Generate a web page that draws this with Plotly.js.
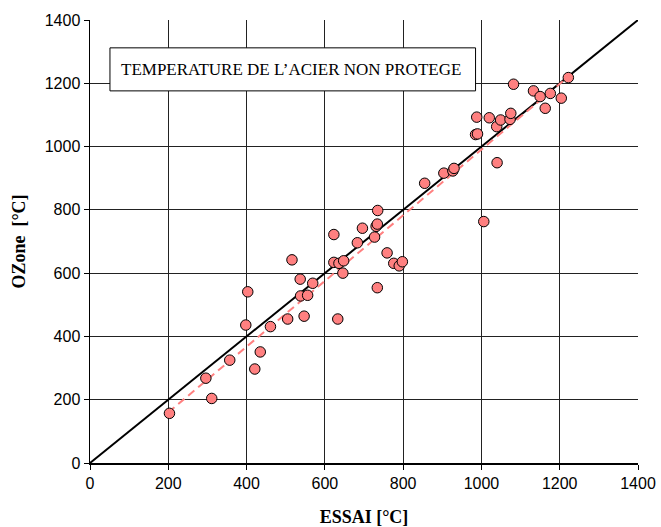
<!DOCTYPE html>
<html>
<head>
<meta charset="utf-8">
<script src="https://cdn.plot.ly/plotly-3.0.1.min.js"></script>
<style>html,body{margin:0;padding:0;background:#fff;}#chart{width:661px;height:527px;}</style>
</head>
<body>
<div id="chart"></div>
<script>
const essai = [203,296,311,357,398,403,421,435,461,505,516,537,547,538,556,569,623,623,636,648,646,633,683,696,727,731,734,735,734,759,776,790,798,855,904,927,930,985,990,988,1020,1039,1049,1073,1075,1040,1006,1082,1133,1150,1176,1163,1204,1222];
const ozone = [157,268,204,325,436,541,297,351,431,455,642,581,464,528,530,568,722,634,631,639,600,455,696,742,714,748,755,798,554,664,631,623,636,884,916,923,931,1038,1040,1093,1091,1063,1084,1086,1105,949,763,1197,1176,1158,1168,1121,1153,1218];
const refX = [0,1400];
const refY = [0,1400];
const trendX = [200,1222];
const trendY = [160,1221];
const tickVals = [0,200,400,600,800,1000,1200,1400];
const boxLabel = "TEMPERATURE DE L\u2019ACIER NON PROTEGE";
const xTitle = "ESSAI [°C]";
const yTitle = "OZone  [°C]";

const traces = [
  {x: refX, y: refY, mode: 'lines', line: {color: '#000', width: 2}, hoverinfo: 'skip'},
  {x: trendX, y: trendY, mode: 'lines', line: {color: '#FF8080', width: 2, dash: '8px,5px'}, hoverinfo: 'skip'},
  {x: essai, y: ozone, mode: 'markers', marker: {size: 10.5, color: '#FF8080', line: {color: '#000', width: 1}}}
];

const axisCommon = {
  range: [0, 1400], tickvals: tickVals, showgrid: true, gridcolor: '#222', gridwidth: 1,
  zeroline: false, showline: true, linecolor: '#000', linewidth: 1.5,
  ticks: 'outside', ticklen: 5, tickcolor: '#000',
  tickfont: {family: 'Liberation Sans, Arial, sans-serif', size: 16, color: '#000'},
  fixedrange: true
};

const layout = {
  width: 661, height: 527,
  margin: {l: 90, r: 23, t: 20, b: 64},
  paper_bgcolor: '#fff', plot_bgcolor: '#fff',
  showlegend: false,
  xaxis: Object.assign({}, axisCommon, {
    title: {text: '<b>' + xTitle + '</b>', font: {family: 'Liberation Serif, Times New Roman, serif', size: 18, color: '#000'}, standoff: 19}
  }),
  yaxis: Object.assign({}, axisCommon, {
    title: {text: '<b>' + yTitle + '</b>', font: {family: 'Liberation Serif, Times New Roman, serif', size: 18, color: '#000'}, standoff: 14}
  }),
  shapes: [
    {type: 'rect', xref: 'x', yref: 'y', x0: 51, x1: 985, y0: 1176, y1: 1312, fillcolor: '#fff', line: {color: '#000', width: 1}, layer: 'above'}
  ],
  annotations: [
    {xref: 'x', yref: 'y', x: 75, y: 1244, xanchor: 'left', text: boxLabel, showarrow: false,
     font: {family: 'Liberation Serif, Times New Roman, serif', size: 17, color: '#000'}}
  ]
};

Plotly.newPlot('chart', traces, layout, {displayModeBar: false, staticPlot: true});
</script>
</body>
</html>
